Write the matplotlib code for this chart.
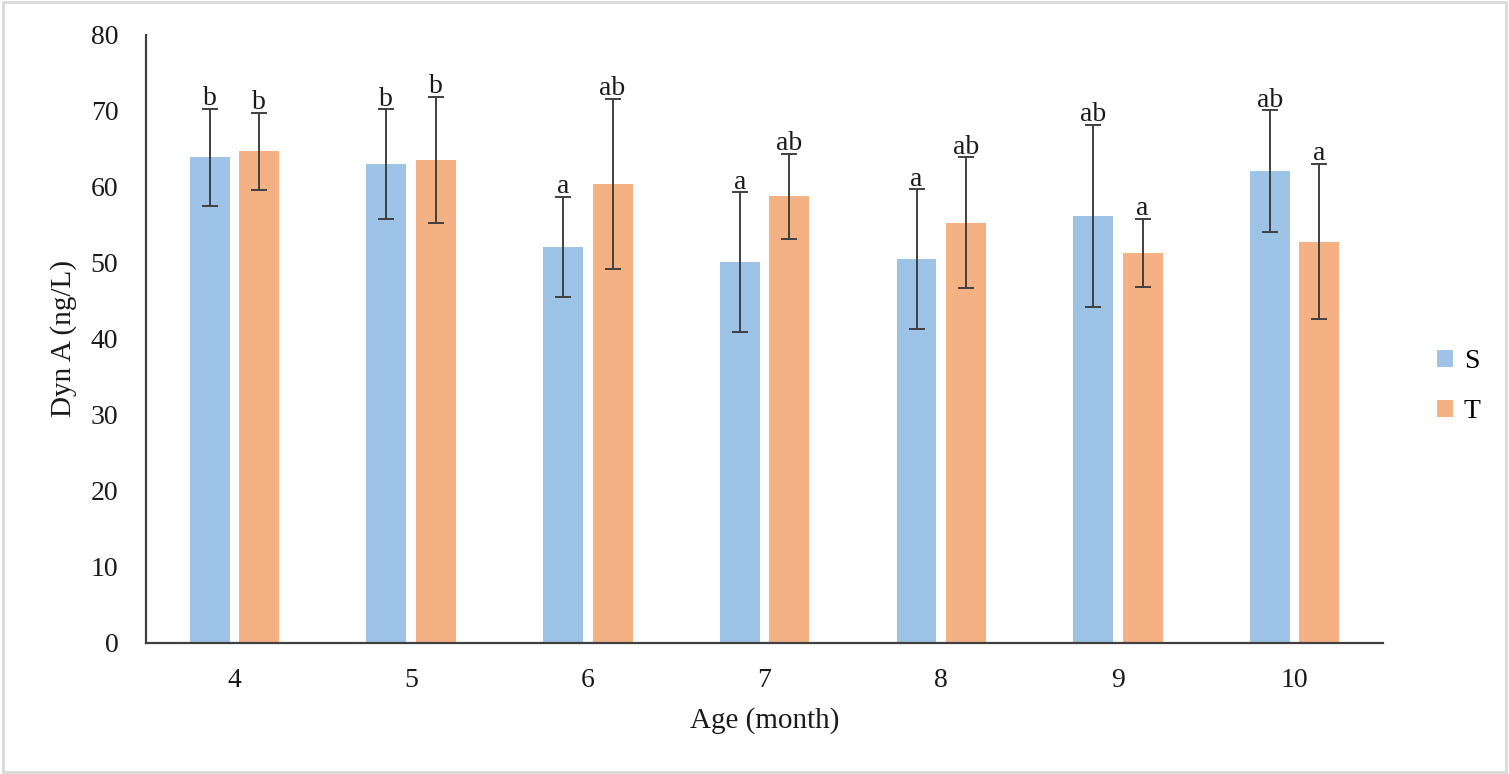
import numpy as np
import matplotlib.pyplot as plt
from matplotlib.patches import Rectangle

plt.rcParams['font.family'] = ['Liberation Serif', 'DejaVu Serif']

# data
ages = ['4', '5', '6', '7', '8', '9', '10']
s_mean = [63.9, 63.0, 52.1, 50.1, 50.5, 56.2, 62.1]
s_err = [6.4, 7.2, 6.6, 9.2, 9.2, 12.0, 8.0]
t_mean = [64.7, 63.6, 60.4, 58.8, 55.3, 51.3, 52.8]
t_err = [5.1, 8.3, 11.2, 5.6, 8.6, 4.5, 10.2]
s_letters = ['b', 'b', 'a', 'a', 'a', 'ab', 'ab']
t_letters = ['b', 'b', 'ab', 'ab', 'ab', 'a', 'a']

blue = '#9DC3E6'
orange = '#F4B183'
dark = '#404040'

fig = plt.figure(figsize=(15.09, 7.74), dpi=100)
ax = fig.add_axes([0.0968, 0.1693, 0.8197, 0.7855])

x = np.arange(len(ages))
w = 0.226
off = 0.14

ekw = dict(ecolor=dark, elinewidth=1.4, capsize=6, capthick=1.4)
ax.bar(x - off, s_mean, w, yerr=s_err, color=blue, label='S', error_kw=ekw)
ax.bar(x + off, t_mean, w, yerr=t_err, color=orange, label='T', error_kw=ekw)

# significance letters just above the error bars
for i in range(len(ages)):
    ax.text(x[i] - off, s_mean[i] + s_err[i] - 0.3, s_letters[i], ha='center', va='bottom',
            fontsize=20, color='#1a1a1a')
    ax.text(x[i] + off, t_mean[i] + t_err[i] - 0.3, t_letters[i], ha='center', va='bottom',
            fontsize=20, color='#1a1a1a')

ax.set_xlim(-0.5, len(ages) - 0.5)
ax.set_ylim(0, 80)
ax.set_yticks(range(0, 81, 10))
ax.set_xticks(x)
ax.set_xticklabels(ages)
ax.tick_params(axis='both', length=0, labelsize=20, colors='#1a1a1a')
ax.tick_params(axis='y', pad=20)
ax.tick_params(axis='x', pad=18)

for side in ['top', 'right']:
    ax.spines[side].set_visible(False)
for side in ['left', 'bottom']:
    ax.spines[side].set_color(dark)
    ax.spines[side].set_linewidth(1.6)

ax.set_xlabel('Age (month)', fontsize=21, labelpad=10, color='#1a1a1a')
ax.set_ylabel('Dyn A (ng/L)', fontsize=21, labelpad=10, color='#1a1a1a')

ax.legend(loc='center left', bbox_to_anchor=(0.936, 0.500), bbox_transform=fig.transFigure,
          frameon=False, fontsize=20, handlelength=0.55, handleheight=0.55,
          handletextpad=0.4, labelspacing=0.9)

# thin grey border round the whole picture
fig.patches.append(Rectangle((0.002, 0.003), 0.996, 0.994, transform=fig.transFigure,
                             fill=False, edgecolor='#d9d9d9', linewidth=2))

fig.savefig('out.png', dpi=100)
